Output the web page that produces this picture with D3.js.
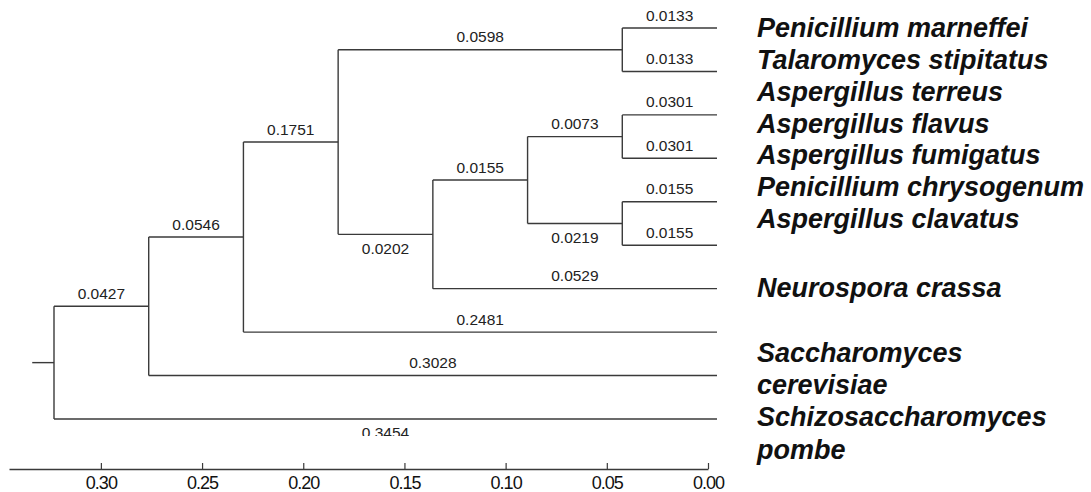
<!DOCTYPE html>
<html><head><meta charset="utf-8">
<script src="https://cdn.jsdelivr.net/npm/d3@7"></script>
<style>
html,body{margin:0;padding:0;background:#fff;}
svg{display:block;}
</style></head>
<body><svg id="chart" width="1091" height="492"></svg>
<script>
// ---------------- DATA ----------------
const nodeIds = ["root","n1","n2","n3","n4","tPm","tTs","n5","n6","n7","tAt","tAfl","n8","tAfu","tPc","tAc","tNc","tSc","tSp"];
const parentIds = ["","root","n1","n2","n3","n4","n4","n3","n5","n6","n7","n7","n6","n8","n8","n5","n2","n1","root"];
// children listed in drawing order (top to bottom)
const branchLengths = [0,0.0427,0.0546,0.1751,0.0598,0.0133,0.0133,0.0202,0.0155,0.0073,0.0301,0.0301,0.0219,0.0155,0.0155,0.0529,0.2481,0.3028,0.3454];
const labelsBelow = ["n5","n8","tSp"];
const nameBlockA = ["Penicillium marneffei","Talaromyces stipitatus","Aspergillus terreus","Aspergillus flavus","Aspergillus fumigatus","Penicillium chrysogenum","Aspergillus clavatus"];
const nameBlockB = ["Neurospora crassa","","Saccharomyces","cerevisiae","Schizosaccharomyces","pombe"];
const axisTicks = [0.30,0.25,0.20,0.15,0.10,0.05,0.00];
const axisDomain = [0.3454, 0.00];

// ---------------- LAYOUT ----------------
const svg = d3.select("#chart");
const treeLeft = 54, treeRight = 717, firstLeafY = 28, leafStep = 43.44;
const axisY = 469, axisLeft = 9, axisRight = 708;
const lineColor = "#3a3a3a";

const table = nodeIds.map((id,i)=>({id, parent: parentIds[i] || null, len: branchLengths[i]}));
const root = d3.stratify().id(d=>d.id).parentId(d=>d.parent)(table);
const nLeaves = root.leaves().length;
d3.cluster()
  .size([leafStep*nLeaves, treeRight-treeLeft])
  .separation(()=>1)(root);

const xPos = d3.scaleLinear().domain([0, treeRight-treeLeft]).range([treeLeft, treeRight]);
const yPos = d3.scaleLinear().domain([leafStep/2, leafStep*nLeaves - leafStep/2]).range([firstLeafY, firstLeafY + leafStep*(nLeaves-1)]);

const g = svg.append("g");
// horizontal branches
g.selectAll("line.h").data(root.descendants().filter(d=>d.parent))
  .join("line").attr("class","h")
  .attr("x1",d=>xPos(d.parent.y)).attr("x2",d=>xPos(d.y))
  .attr("y1",d=>yPos(d.x)).attr("y2",d=>yPos(d.x))
  .attr("stroke",lineColor).attr("stroke-width",1.4);
// vertical connectors
g.selectAll("line.v").data(root.descendants().filter(d=>d.children))
  .join("line").attr("class","v")
  .attr("x1",d=>xPos(d.y)).attr("x2",d=>xPos(d.y))
  .attr("y1",d=>yPos(d.children[0].x)).attr("y2",d=>yPos(d.children[d.children.length-1].x))
  .attr("stroke",lineColor).attr("stroke-width",1.4);
// root stub
const levelStep = (treeRight-treeLeft)/root.height;
g.append("line")
  .attr("x1",xPos(root.y)-levelStep*0.23).attr("x2",xPos(root.y))
  .attr("y1",yPos(root.x)).attr("y2",yPos(root.x))
  .attr("stroke",lineColor).attr("stroke-width",1.4);

// clip for the partially hidden bottom label
svg.append("defs").append("clipPath").attr("id","clipTop")
  .append("rect").attr("x",0).attr("y",0).attr("width",1091).attr("height",axisY-33);

// branch length labels
g.selectAll("text.bl").data(root.descendants().filter(d=>d.parent))
  .join("text").attr("class","bl")
  .attr("x",d=>(xPos(d.parent.y)+xPos(d.y))/2)
  .attr("y",d=> labelsBelow.includes(d.id) ? yPos(d.x)+19.5 : yPos(d.x)-7.5)
  .attr("text-anchor","middle")
  .attr("clip-path",d=> d.id==="tSp" ? "url(#clipTop)" : null)
  .style("font-family","'Liberation Sans', Arial, Helvetica, sans-serif")
  .style("font-size","15.5px")
  .attr("fill","#222")
  .text(d=>d3.format(".4f")(d.data.len));

// species names
const leaves = root.leaves();
const nameX = 757;
const nameStyle = sel => sel
  .style("font-family","'Liberation Sans', Arial, Helvetica, sans-serif")
  .style("font-size","27px").style("font-weight","bold").style("font-style","italic")
  .attr("fill","#111").attr("dy","0.35em");
svg.append("g").selectAll("text").data(nameBlockA).join("text")
  .attr("x",nameX).attr("y",(d,i)=>yPos(leaves[0].x)+i*31.7).text(d=>d).call(nameStyle);
svg.append("g").selectAll("text").data(nameBlockB).join("text")
  .attr("x",nameX).attr("y",(d,i)=>yPos(leaves[6].x)-1+i*32.3).text(d=>d).call(nameStyle);

// axis
const xAxisScale = d3.scaleLinear().domain(axisDomain).range([axisLeft, axisRight]);
const axis = d3.axisBottom(xAxisScale).tickValues(axisTicks).tickFormat(d3.format(".2f"))
  .tickSize(-6).tickSizeOuter(0).tickPadding(7);
const ax = svg.append("g").attr("transform",`translate(0,${axisY})`).call(axis);
ax.select(".domain").attr("stroke",lineColor).attr("stroke-width",1.4);
ax.selectAll(".tick line").attr("stroke",lineColor).attr("stroke-width",1.2);
ax.selectAll(".tick text")
  .style("font-family","'Liberation Sans', Arial, Helvetica, sans-serif")
  .style("font-size","18px").style("letter-spacing","-1px").attr("fill","#111");
</script>
</body></html>
